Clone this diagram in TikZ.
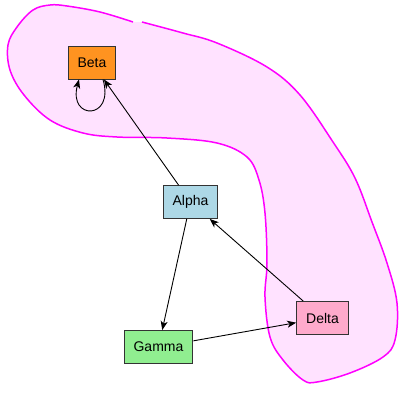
\documentclass[tikz,border=0pt]{standalone}
\usepackage{fontspec}
\setmainfont{Liberation Sans}
\usepackage{tikz}
\usetikzlibrary{arrows.meta}
\definecolor{betaorange}{HTML}{FF9320}
\definecolor{alphablue}{HTML}{ADD8E6}
\definecolor{gammagreen}{HTML}{90EE90}
\definecolor{deltapink}{HTML}{FFAACC}
\definecolor{blobline}{HTML}{FF00FF}
\definecolor{blobfill}{HTML}{FFE2FF}
\tikzset{PX/.style=
   {x=1pt, y=-1pt},
   box/.style={draw=black!80, line width=0.9pt, minimum height=33pt, inner xsep=9.5pt, font=\fontsize{14}{16}\selectfont},
   blob/.style={draw=blobline, line width=1.5pt, fill=blobfill}}

\begin{document}
\begin{tikzpicture}[PX, >={Stealth[length=9pt, width=7pt, inset=2.5pt]}]
\useasboundingbox (0,0) rectangle (400,400);

\path[blob] plot[smooth, tension=0.6] coordinates {(142,22) (183,33) (217,43) (267,67) (300,95) (333,142) (355,178) (372,222) (387,263) (397,303) (395,340) (383,357) (350,373) (317,382) (303,380) (283,360) (270,337) (265,297) (267,263) (265,213) (259,180) (247,157) (217,143) (167,138) (117,137) (83,133) (50,120) (24,95) (10,70) (8,45) (17,27) (33,10) (50,5) (67,6) (100,12) (133,22)};

\node[box, fill=betaorange] (beta) at (92,62.5) {Beta};
\node[box, fill=alphablue] (alpha) at (190.5,202) {Alpha};
\node[box, fill=gammagreen] (gamma) at (158.5,347) {Gamma};
\node[box, fill=deltapink] (delta) at (322.5,318) {Delta};

\draw[->, line width=0.9pt] (alpha)--(beta);
\draw[->, line width=0.9pt] ([xshift=11pt]beta.south) .. controls +(12,41) and +(-11,41) .. ([xshift=-13pt]beta.south);
\draw[->, line width=0.9pt] (alpha)--(gamma);
\draw[->, line width=0.9pt] (gamma)--(delta);
\draw[->, line width=0.9pt] (delta)--(alpha);
\end{tikzpicture}
\end{document}
